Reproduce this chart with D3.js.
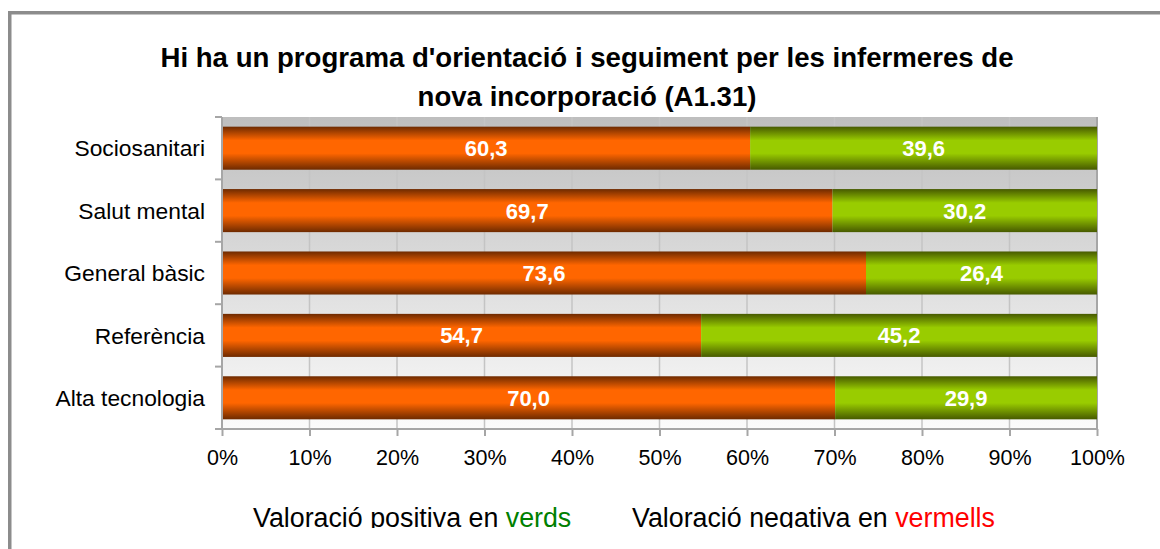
<!DOCTYPE html>
<html>
<head>
<meta charset="utf-8">
<script src="https://cdn.jsdelivr.net/npm/d3@7"></script>
<style>
  body { margin: 0; background: #fff; }
  text { font-family: "Liberation Sans", Arial, sans-serif; }
</style>
</head>
<body>
<div id="container"></div>
<script>
// Chart data
var categories = ["Sociosanitari", "Salut mental", "General bàsic", "Referència", "Alta tecnologia"];
var negatives = [60.3, 69.7, 73.6, 54.7, 70.0];   // orange
var positives = [39.6, 30.2, 26.4, 45.2, 29.9];   // green
var tickValues = [0, 0.1, 0.2, 0.3, 0.4, 0.5, 0.6, 0.7, 0.8, 0.9, 1];
var titleLines = ["Hi ha un programa d'orientació i seguiment per les infermeres de",
                  "nova incorporació (A1.31)"];

// SVG dimensions
var width = 1160,
    height = 549;

var plot = { left: 222, right: 1097, top: 117, bottom: 429 };

var svg = d3.select("#container")
    .append("svg")
    .attr("width", width)
    .attr("height", height);

var defs = svg.append("defs");

// Vertical gradients for the bars and background
function gradient(id, stops) {
    var g = defs.append("linearGradient")
        .attr("id", id)
        .attr("x1", 0).attr("y1", 0)
        .attr("x2", 0).attr("y2", 1);
    stops.forEach(function(s) {
        g.append("stop").attr("offset", s[0]).attr("stop-color", s[1]);
    });
}
gradient("orange", [[0, "#6e2a00"], [0.32, "#ff6600"], [0.62, "#ff6600"], [1, "#6e2a00"]]);
gradient("green", [[0, "#475a00"], [0.32, "#99cc00"], [0.62, "#99cc00"], [1, "#475a00"]]);
gradient("bg", [[0, "#bebebe"], [1, "#fbfbfb"]]);

defs.append("clipPath")
    .attr("id", "clip")
    .append("rect")
    .attr("x", 0).attr("y", 0)
    .attr("width", width).attr("height", 528);

// Outer frame (runs off the right and bottom edges)
svg.append("rect")
    .attr("x", 9.75)
    .attr("y", 12.75)
    .attr("width", width + 20)
    .attr("height", height + 20)
    .attr("fill", "none")
    .attr("stroke", "#8c8c8c")
    .attr("stroke-width", 3.5);

// Scales
var xScale = d3.scaleLinear()
    .domain([0, 1])
    .range([plot.left, plot.right]);
var yScale = d3.scaleBand()
    .domain(categories)
    .range([plot.top, plot.bottom])
    .paddingInner(0.31)
    .paddingOuter(0.155);
var bandScale = d3.scaleBand()
    .domain(categories)
    .range([plot.top, plot.bottom]);

// Plot background
svg.append("rect")
    .attr("x", plot.left)
    .attr("y", plot.top)
    .attr("width", plot.right - plot.left)
    .attr("height", plot.bottom - plot.top)
    .attr("fill", "url(#bg)");

// Vertical gridlines
svg.selectAll(".grid")
    .data(tickValues.slice(1))
    .enter()
    .append("line")
    .attr("class", "grid")
    .attr("x1", function(d) { return xScale(d); })
    .attr("x2", function(d) { return xScale(d); })
    .attr("y1", plot.top)
    .attr("y2", plot.bottom)
    .attr("stroke", function(d) { return d === 1 ? "#a6a6a6" : "#c4c4c4"; })
    .attr("stroke-width", function(d) { return d === 1 ? 2 : 1.5; });

// Stack the two series and normalize each row to 100%
var rows = categories.map(function(c, i) {
    var total = negatives[i] + positives[i];
    return { cat: c, neg: negatives[i], pos: positives[i], negShare: negatives[i] / total };
});

var segments = [];
rows.forEach(function(r) {
    segments.push({ cat: r.cat, x0: 0, x1: r.negShare, value: r.neg, fill: "url(#orange)" });
    segments.push({ cat: r.cat, x0: r.negShare, x1: 1, value: r.pos, fill: "url(#green)" });
});

svg.selectAll(".bar")
    .data(segments)
    .enter()
    .append("rect")
    .attr("class", "bar")
    .attr("x", function(d) { return xScale(d.x0); })
    .attr("y", function(d) { return yScale(d.cat); })
    .attr("width", function(d) { return xScale(d.x1) - xScale(d.x0); })
    .attr("height", yScale.bandwidth())
    .attr("fill", function(d) { return d.fill; });

// Value labels
svg.selectAll(".value")
    .data(segments)
    .enter()
    .append("text")
    .attr("class", "value")
    .attr("x", function(d) { return (xScale(d.x0) + xScale(d.x1)) / 2; })
    .attr("y", function(d) { return yScale(d.cat) + yScale.bandwidth() / 2; })
    .attr("dy", "0.36em")
    .attr("text-anchor", "middle")
    .attr("fill", "#fff")
    .attr("font-weight", "bold")
    .attr("font-size", "22px")
    .text(function(d) { return d.value.toFixed(1).replace(".", ","); });

// Axes
var xAxis = d3.axisBottom(xScale)
    .tickValues(tickValues)
    .tickSize(7)
    .tickFormat(d3.format(".0%"));
var gx = svg.append("g")
    .attr("transform", "translate(0," + plot.bottom + ")")
    .call(xAxis);
gx.select(".domain").remove();
gx.selectAll(".tick line").attr("stroke", "#a6a6a6").attr("stroke-width", 2);
gx.selectAll(".tick text")
    .attr("y", 21)
    .attr("font-size", "21.5px")
    .attr("font-family", "Liberation Sans, Arial, sans-serif")
    .attr("fill", "#000");
svg.append("line")
    .attr("x1", plot.left - 7).attr("x2", plot.right)
    .attr("y1", plot.bottom).attr("y2", plot.bottom)
    .attr("stroke", "#a6a6a6").attr("stroke-width", 2);

// Category axis: ticks sit on band boundaries
svg.selectAll(".ytick")
    .data(categories)
    .enter()
    .append("line")
    .attr("class", "ytick")
    .attr("x1", plot.left - 7).attr("x2", plot.left)
    .attr("y1", function(d) { return bandScale(d); })
    .attr("y2", function(d) { return bandScale(d); })
    .attr("stroke", "#a6a6a6").attr("stroke-width", 2);
svg.append("line")
    .attr("x1", plot.left).attr("x2", plot.left)
    .attr("y1", plot.top).attr("y2", plot.bottom)
    .attr("stroke", "#a6a6a6").attr("stroke-width", 2);

svg.selectAll(".cat")
    .data(categories)
    .enter()
    .append("text")
    .attr("class", "cat")
    .attr("x", 205)
    .attr("y", function(d) { return bandScale(d) + bandScale.bandwidth() / 2; })
    .attr("dy", "0.36em")
    .attr("text-anchor", "end")
    .attr("font-size", "22.8px")
    .text(function(d) { return d; });

// Title
svg.selectAll(".title")
    .data(titleLines)
    .enter()
    .append("text")
    .attr("class", "title")
    .attr("x", 587)
    .attr("y", function(d, i) { return 67 + i * 39; })
    .attr("text-anchor", "middle")
    .attr("font-weight", "bold")
    .attr("font-size", "27.6px")
    .text(function(d) { return d; });

// Footer note, clipped at the bottom like the original
var note = svg.append("g").attr("clip-path", "url(#clip)");
var t1 = note.append("text").attr("x", 253).attr("y", 527).attr("font-size", "26.8px");
t1.append("tspan").attr("fill", "#000").text("Valoració positiva en ");
t1.append("tspan").attr("fill", "#008000").text("verds");
var t2 = note.append("text").attr("x", 632).attr("y", 527).attr("font-size", "26.8px");
t2.append("tspan").attr("fill", "#000").text("Valoració negativa en ");
t2.append("tspan").attr("fill", "#ff0000").text("vermells");
</script>
</body>
</html>
